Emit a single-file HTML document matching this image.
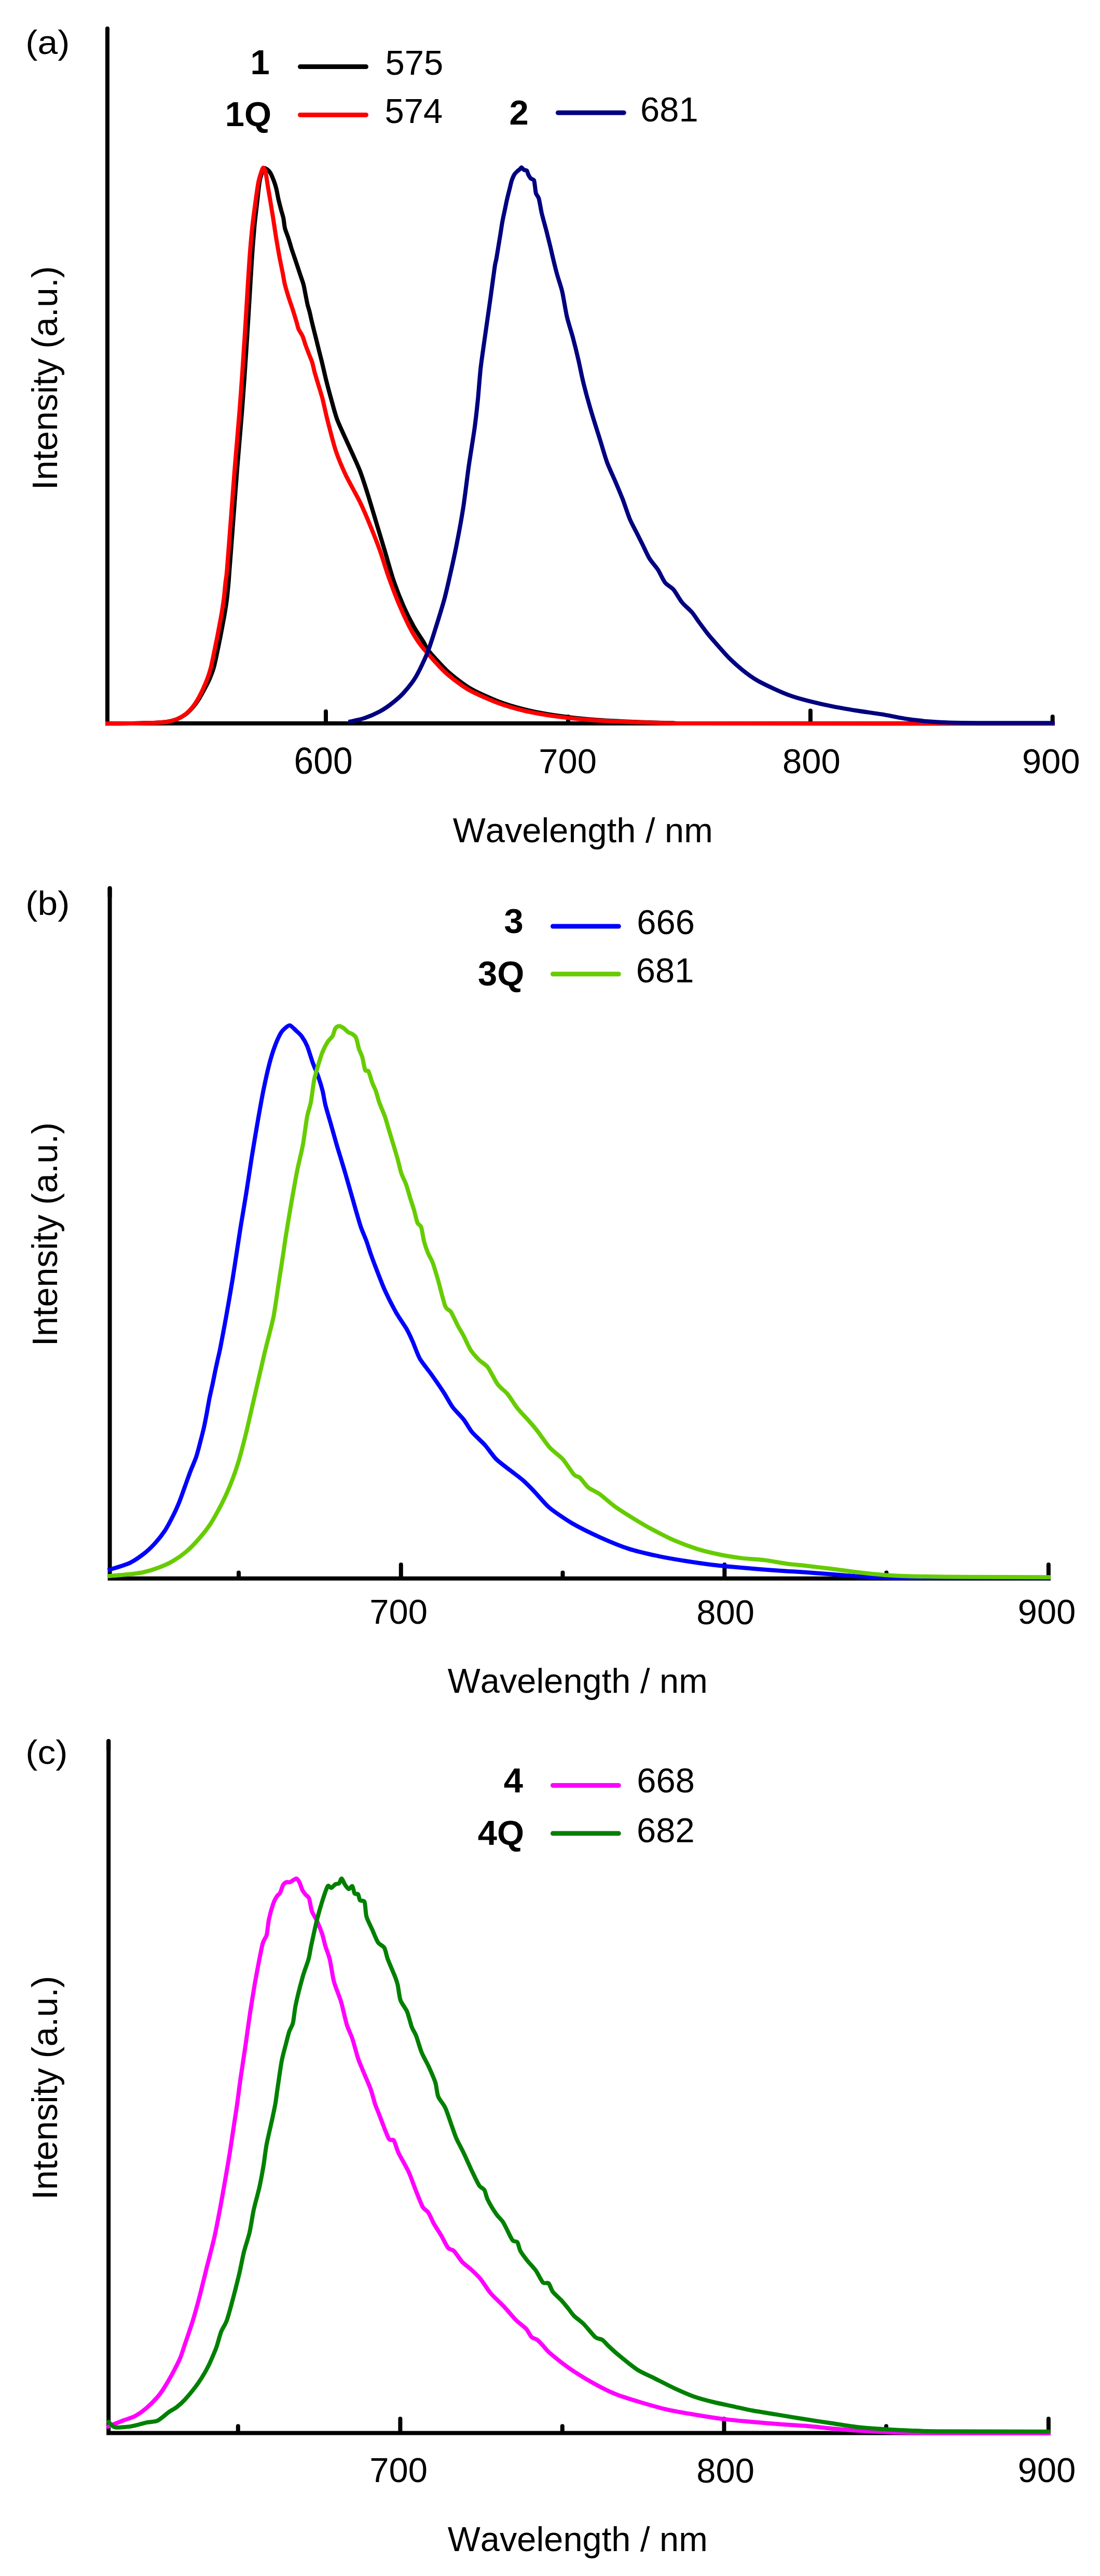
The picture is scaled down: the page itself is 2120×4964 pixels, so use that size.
<!DOCTYPE html>
<html><head><meta charset="utf-8"><title>Emission spectra</title>
<style>html,body{margin:0;padding:0;background:#fff}svg{display:block}text{font-family:"Liberation Sans",sans-serif;fill:#000;font-kerning:none}</style></head><body>
<svg width="2120" height="4964" viewBox="0 0 2120 4964">
<rect width="2120" height="4964" fill="#fff"/>
<g id="panel-a">
<line x1="628.0" y1="1393.0" x2="628.0" y2="1371.0" stroke="#000" stroke-width="8" stroke-linecap="round"/>
<line x1="1095.0" y1="1393.0" x2="1095.0" y2="1381.0" stroke="#000" stroke-width="8" stroke-linecap="round"/>
<line x1="1562.0" y1="1393.0" x2="1562.0" y2="1369.5" stroke="#000" stroke-width="8" stroke-linecap="round"/>
<line x1="2028.6" y1="1393.0" x2="2028.6" y2="1381.0" stroke="#000" stroke-width="8" stroke-linecap="round"/>
<path d="M207.0,54.0 L207.0,1394.0 L2032.6,1394.0" stroke="#000" stroke-width="8" fill="none" stroke-linejoin="miter" stroke-linecap="butt"/>
<line x1="207.0" y1="55.0" x2="207.0" y2="71.0" stroke="#000" stroke-width="8" stroke-linecap="round"/>
<path d="M207.0,1394.3C212.4,1394.3 240.8,1394.1 250.0,1394.0C259.2,1393.9 273.7,1393.5 280.0,1393.3C286.3,1393.1 294.7,1393.1 300.0,1392.8C305.3,1392.5 316.6,1391.9 321.8,1391.0C327.0,1390.1 336.4,1387.7 341.0,1385.9C345.6,1384.1 354.1,1379.3 358.0,1376.4C361.9,1373.5 368.7,1366.5 372.0,1362.7C375.3,1358.9 381.0,1350.9 383.8,1346.4C386.6,1341.9 391.8,1332.1 394.4,1327.3C397.0,1322.5 401.8,1313.4 404.0,1308.2C406.2,1303.0 410.2,1292.6 412.0,1286.4C413.8,1280.2 416.7,1265.9 418.2,1259.0C419.7,1252.1 422.4,1238.7 423.8,1231.8C425.2,1224.9 427.7,1211.4 429.0,1204.5C430.3,1197.6 432.8,1184.2 433.9,1177.3C435.0,1170.4 437.0,1156.9 437.8,1150.0C438.6,1143.1 439.9,1129.0 440.5,1122.7C441.1,1116.4 441.0,1115.5 442.2,1100.0C443.4,1084.5 447.9,1025.3 449.8,1000.0C451.7,974.7 455.4,925.3 457.4,900.0C459.4,874.7 464.1,821.9 465.8,800.0C467.5,778.1 469.9,746.1 471.2,727.0C472.5,707.9 475.0,669.2 476.3,649.5C477.6,629.8 479.9,591.5 481.1,571.8C482.3,552.1 484.6,511.4 485.8,494.2C487.0,477.0 489.3,448.2 490.4,435.9C491.5,423.6 493.8,405.6 494.8,397.0C495.8,388.4 497.3,374.1 498.0,368.0C498.7,361.9 499.8,352.8 500.6,348.5C501.4,344.2 503.6,336.7 504.5,334.0C505.4,331.3 506.8,328.3 507.5,327.0C508.2,325.7 509.3,324.0 510.3,324.0C511.3,324.0 514.1,325.9 515.5,327.0C516.9,328.1 519.4,330.3 521.0,333.0C522.6,335.7 526.3,344.6 527.8,348.5C529.3,352.4 531.5,359.6 532.6,364.0C533.7,368.4 535.4,378.6 536.5,383.5C537.6,388.4 540.2,398.3 541.4,403.0C542.6,407.7 545.2,415.7 546.2,420.4C547.2,425.1 547.9,434.9 549.1,439.8C550.3,444.7 554.3,454.3 555.9,459.2C557.5,464.1 560.2,473.9 561.7,478.6C563.2,483.3 566.1,491.7 567.6,496.1C569.1,500.5 571.9,509.2 573.4,513.6C574.9,518.0 577.7,526.6 579.2,531.0C580.7,535.4 583.8,543.8 585.0,548.5C586.2,553.2 587.9,563.1 588.9,568.0C589.9,572.9 591.8,583.2 592.8,587.4C593.8,591.6 595.7,597.1 596.7,601.0C597.7,604.9 599.5,613.7 600.6,618.4C601.7,623.1 604.2,633.0 605.4,637.9C606.6,642.8 609.1,652.4 610.3,657.3C611.5,662.2 613.9,671.8 615.1,676.7C616.3,681.6 618.3,689.1 620.0,696.0C621.7,702.9 625.9,721.9 628.2,731.0C630.5,740.1 635.2,758.1 638.0,768.0C640.8,777.9 645.7,797.6 650.0,809.0C654.3,820.4 666.4,845.7 671.9,858.2C677.4,870.7 688.9,894.9 693.7,907.3C698.5,919.7 705.9,943.3 710.0,956.4C714.1,969.5 722.2,997.2 726.4,1011.0C730.6,1024.8 738.7,1051.7 742.8,1065.5C746.9,1079.3 754.5,1106.9 759.0,1120.0C763.5,1133.1 773.3,1157.9 778.2,1169.0C783.1,1180.1 792.5,1198.6 797.3,1207.3C802.1,1216.0 812.8,1231.4 816.4,1237.3C820.0,1243.2 820.1,1246.8 826.0,1254.0C831.9,1261.2 852.9,1284.8 863.0,1294.0C873.1,1303.2 893.7,1319.2 906.0,1326.5C918.3,1333.8 946.3,1346.2 960.0,1351.5C973.7,1356.8 1000.3,1364.6 1014.0,1368.0C1027.7,1371.4 1052.9,1376.0 1068.0,1378.3C1083.1,1380.6 1114.4,1384.4 1133.0,1386.0C1151.6,1387.6 1194.4,1389.9 1215.0,1390.8C1235.6,1391.7 1278.9,1392.9 1296.0,1393.3C1313.1,1393.7 1257.2,1393.9 1350.0,1394.0C1442.8,1394.1 1942.6,1394.3 2028.6,1394.3" stroke="#000" stroke-width="8" fill="none" stroke-linejoin="round" stroke-linecap="square"/>
<path d="M207.0,1394.3C212.4,1394.3 240.8,1394.1 250.0,1394.0C259.2,1393.9 273.7,1393.5 280.0,1393.3C286.3,1393.1 294.7,1393.1 300.0,1392.8C305.3,1392.5 316.6,1391.9 321.8,1391.0C327.0,1390.1 336.4,1387.7 340.9,1385.9C345.4,1384.1 353.5,1379.3 357.3,1376.4C361.1,1373.5 367.8,1366.5 370.9,1362.7C374.0,1358.9 379.2,1350.9 381.8,1346.4C384.4,1341.9 389.2,1332.1 391.4,1327.3C393.6,1322.5 397.6,1313.4 399.5,1308.2C401.4,1303.0 404.8,1292.6 406.4,1286.4C408.0,1280.2 410.8,1265.9 412.2,1259.0C413.6,1252.1 416.4,1238.7 417.8,1231.8C419.2,1224.9 421.7,1211.4 423.0,1204.5C424.3,1197.6 426.8,1184.2 427.9,1177.3C429.0,1170.4 431.0,1156.9 431.8,1150.0C432.6,1143.1 433.8,1129.0 434.5,1122.7C435.2,1116.4 436.0,1115.5 437.3,1100.0C438.6,1084.5 443.1,1025.3 445.0,1000.0C446.9,974.7 450.6,925.3 452.6,900.0C454.6,874.7 459.3,821.9 461.0,800.0C462.7,778.1 465.1,746.1 466.4,727.0C467.7,707.9 470.2,669.2 471.5,649.5C472.8,629.8 475.1,591.5 476.3,571.8C477.5,552.1 479.9,511.4 481.2,494.2C482.5,477.0 485.1,448.2 486.4,435.9C487.7,423.6 490.2,405.6 491.3,397.0C492.4,388.4 494.4,374.1 495.3,368.0C496.2,361.9 497.6,352.9 498.6,348.5C499.6,344.1 502.2,335.9 503.1,333.0C504.0,330.1 505.0,327.2 505.5,326.0C506.0,324.8 506.9,323.3 507.4,323.3C507.9,323.3 509.2,324.8 509.8,326.0C510.4,327.2 511.4,328.9 512.2,333.0C513.0,337.1 515.0,351.4 516.1,358.3C517.2,365.2 519.8,380.0 521.0,387.4C522.2,394.8 524.4,407.9 525.8,416.5C527.2,425.1 530.1,445.5 531.7,455.3C533.3,465.1 536.8,485.6 538.4,494.2C540.0,502.8 542.9,516.4 544.3,523.3C545.7,530.2 547.6,542.4 549.1,548.5C550.6,554.6 554.1,565.9 555.9,571.8C557.7,577.7 561.7,588.9 563.7,595.1C565.7,601.3 570.0,615.5 571.5,620.4C573.0,625.3 573.8,630.6 575.3,634.0C576.8,637.4 581.4,643.7 583.1,647.6C584.8,651.5 587.4,660.8 588.9,665.0C590.4,669.2 593.2,676.4 594.8,680.6C596.4,684.8 600.1,693.3 601.6,698.0C603.1,702.7 605.1,712.6 606.4,717.5C607.7,722.4 610.7,732.0 612.2,736.9C613.7,741.8 616.9,752.1 618.1,756.3C619.3,760.5 620.4,763.3 622.0,770.0C623.6,776.7 627.8,796.5 631.0,809.0C634.2,821.5 642.8,855.5 647.3,869.0C651.8,882.5 660.5,903.0 666.4,915.5C672.3,928.0 687.8,955.2 693.7,967.3C699.6,979.4 708.0,999.3 712.8,1011.0C717.6,1022.7 727.3,1047.2 731.9,1060.0C736.5,1072.8 744.4,1099.1 749.0,1112.0C753.6,1124.9 763.1,1150.2 768.0,1162.0C772.9,1173.8 783.1,1196.1 787.5,1205.0C791.9,1213.9 798.8,1225.6 803.0,1232.0C807.2,1238.4 813.9,1247.3 821.0,1255.5C828.1,1263.7 848.6,1287.1 859.0,1296.4C869.4,1305.7 890.3,1321.7 902.8,1329.0C915.3,1336.3 943.5,1348.5 957.3,1353.7C971.1,1358.9 998.1,1366.7 1011.9,1370.0C1025.7,1373.3 1051.2,1377.7 1066.4,1379.9C1081.6,1382.1 1113.2,1385.6 1131.9,1387.0C1150.6,1388.4 1193.0,1390.5 1213.7,1391.3C1234.4,1392.1 1278.2,1393.2 1295.5,1393.5C1312.8,1393.8 1311.4,1393.9 1350.0,1394.0C1388.6,1394.1 1514.0,1394.3 1600.0,1394.3C1686.0,1394.3 1974.3,1394.3 2028.6,1394.3" stroke="#f00" stroke-width="8" fill="none" stroke-linejoin="round" stroke-linecap="square"/>
<path d="M675.6,1390.3C678.9,1389.5 694.9,1386.4 702.0,1384.0C709.1,1381.6 725.1,1374.7 732.0,1371.0C738.9,1367.3 750.7,1359.1 756.5,1354.5C762.3,1349.9 772.4,1341.3 778.0,1335.0C783.6,1328.7 795.2,1314.8 801.0,1305.0C806.8,1295.2 818.8,1270.2 823.7,1258.0C828.6,1245.8 835.9,1222.1 840.0,1209.0C844.1,1195.9 853.0,1167.1 856.4,1154.6C859.8,1142.1 864.1,1122.7 867.0,1110.0C869.9,1097.3 875.7,1071.3 879.0,1054.6C882.3,1037.9 889.7,998.2 892.8,978.2C895.9,958.2 900.9,915.7 903.7,896.4C906.5,877.1 912.4,841.5 914.6,825.5C916.8,809.5 919.5,784.8 921.0,770.0C922.5,755.2 924.5,725.7 926.4,709.0C928.3,692.3 933.8,655.3 936.2,638.0C938.6,620.7 943.3,588.7 945.5,572.8C947.7,556.9 952.3,522.0 953.7,512.8C955.1,503.6 955.6,504.4 956.4,500.0C957.2,495.6 959.0,484.4 960.0,478.2C961.0,472.0 963.5,457.3 964.5,450.9C965.5,444.5 967.2,433.1 968.2,427.3C969.2,421.5 971.5,411.0 972.7,405.5C973.9,400.0 976.1,388.7 977.3,383.6C978.5,378.5 980.6,370.1 981.8,365.5C983.0,360.9 985.1,351.1 986.4,347.3C987.7,343.5 990.3,337.8 991.8,335.5C993.3,333.2 996.8,330.3 998.2,329.0C999.6,327.7 1001.8,326.3 1002.7,325.5C1003.6,324.7 1004.1,322.5 1005.0,322.7C1005.9,322.9 1008.7,326.5 1010.0,327.3C1011.3,328.1 1014.5,327.8 1015.5,329.0C1016.5,330.2 1017.3,334.6 1018.2,336.4C1019.1,338.2 1021.3,342.2 1022.7,343.6C1024.1,345.0 1028.0,345.5 1029.0,347.3C1030.0,349.1 1030.4,355.0 1030.9,358.2C1031.4,361.4 1032.1,369.7 1033.0,372.7C1033.9,375.7 1037.2,379.0 1038.2,381.8C1039.2,384.6 1040.2,391.1 1040.9,394.5C1041.6,397.9 1042.8,405.3 1043.6,409.0C1044.4,412.7 1046.3,419.7 1047.3,423.6C1048.3,427.5 1050.6,435.6 1051.8,440.0C1053.0,444.4 1055.2,453.6 1056.4,458.2C1057.6,462.8 1059.7,471.6 1060.9,476.4C1062.1,481.2 1063.9,489.7 1065.5,496.4C1067.1,503.1 1071.4,520.7 1073.7,529.0C1076.0,537.3 1081.1,551.5 1083.5,561.9C1085.9,572.3 1090.2,600.0 1092.8,611.0C1095.4,622.0 1100.9,638.6 1103.7,649.0C1106.5,659.4 1112.2,682.4 1114.6,692.8C1117.0,703.2 1120.7,721.9 1122.8,731.0C1124.9,740.1 1129.0,755.8 1131.5,765.0C1134.0,774.2 1139.5,793.2 1142.7,803.6C1145.9,814.0 1152.9,836.2 1156.4,847.3C1159.9,858.4 1166.2,880.7 1170.0,891.0C1173.8,901.3 1182.6,920.0 1186.4,929.0C1190.2,938.0 1196.5,952.8 1200.0,961.8C1203.5,970.8 1210.2,991.7 1213.7,1000.0C1217.2,1008.3 1224.2,1021.1 1227.3,1027.3C1230.4,1033.5 1235.1,1042.8 1238.2,1049.0C1241.3,1055.2 1248.0,1070.2 1251.8,1076.4C1255.6,1082.6 1264.4,1092.3 1268.2,1098.2C1272.0,1104.1 1278.1,1118.0 1281.9,1122.8C1285.7,1127.6 1294.1,1131.6 1298.2,1136.4C1302.3,1141.2 1310.1,1155.5 1314.6,1161.0C1319.1,1166.5 1329.6,1175.2 1333.7,1180.0C1337.8,1184.8 1343.5,1193.8 1347.3,1199.0C1351.1,1204.2 1359.6,1215.8 1363.7,1221.0C1367.8,1226.2 1374.8,1234.1 1380.0,1240.0C1385.2,1245.9 1398.0,1260.7 1404.6,1267.3C1411.2,1273.9 1424.9,1286.3 1431.8,1291.8C1438.7,1297.3 1451.4,1306.5 1459.0,1311.0C1466.6,1315.5 1483.5,1323.5 1491.8,1327.3C1500.1,1331.1 1515.6,1337.9 1524.6,1341.0C1533.6,1344.1 1552.4,1349.3 1562.8,1351.9C1573.2,1354.5 1595.4,1359.5 1606.4,1361.7C1617.4,1363.9 1638.3,1367.4 1650.0,1369.3C1661.7,1371.2 1687.2,1374.5 1699.0,1376.4C1710.8,1378.3 1731.7,1382.9 1742.8,1384.6C1753.9,1386.3 1775.4,1389.0 1786.4,1390.0C1797.4,1391.0 1816.2,1392.2 1830.0,1392.6C1843.8,1393.0 1870.3,1393.2 1895.5,1393.3C1920.7,1393.4 2011.7,1393.3 2028.6,1393.3" stroke="#000080" stroke-width="8" fill="none" stroke-linejoin="round" stroke-linecap="square"/>
<text x="49.3" y="103.8" font-size="65.2" textLength="85.0" lengthAdjust="spacingAndGlyphs">(a)</text>
<text transform="translate(110.0,944.2) rotate(-90)" font-size="68.1">Intensity (a.u.)</text>
<text x="482.5" y="142.5" font-size="67" font-weight="bold">1</text>
<line x1="578.5" y1="128.6" x2="705.5" y2="128.6" stroke="#000" stroke-width="9" stroke-linecap="round"/>
<text x="742.4" y="143.5" font-size="67">575</text>
<text x="433.7" y="243.0" font-size="67" font-weight="bold">1Q</text>
<line x1="578.5" y1="221.4" x2="705.5" y2="221.4" stroke="#f00" stroke-width="9" stroke-linecap="round"/>
<text x="741.5" y="236.8" font-size="67">574</text>
<text x="981.5" y="239.5" font-size="67" font-weight="bold">2</text>
<line x1="1075.5" y1="217.2" x2="1202.3" y2="217.2" stroke="#000080" stroke-width="9" stroke-linecap="round"/>
<text x="1234.0" y="233.5" font-size="67">681</text>
<text x="566.6" y="1490.5" font-size="73" textLength="113.1" lengthAdjust="spacingAndGlyphs">600</text>
<text x="1038.2" y="1490.3" font-size="67">700</text>
<text x="1508.0" y="1490.3" font-size="67">800</text>
<text x="1969.8" y="1490.3" font-size="67">900</text>
<text x="872.7" y="1622.5" font-size="66.8">Wavelength / nm</text>
</g>
<g id="panel-b">
<line x1="772.8" y1="3040.7" x2="772.8" y2="3015.0" stroke="#000" stroke-width="8" stroke-linecap="round"/>
<line x1="1396.4" y1="3040.7" x2="1396.4" y2="3015.0" stroke="#000" stroke-width="8" stroke-linecap="round"/>
<line x1="2020.8" y1="3040.7" x2="2020.8" y2="3015.0" stroke="#000" stroke-width="8" stroke-linecap="round"/>
<line x1="460.0" y1="3040.7" x2="460.0" y2="3030.5" stroke="#000" stroke-width="8" stroke-linecap="round"/>
<line x1="1084.5" y1="3040.7" x2="1084.5" y2="3030.5" stroke="#000" stroke-width="8" stroke-linecap="round"/>
<line x1="1708.4" y1="3040.7" x2="1708.4" y2="3030.5" stroke="#000" stroke-width="8" stroke-linecap="round"/>
<path d="M211.6,1710.6 L211.6,3041.7 L2024.8,3041.7" stroke="#000" stroke-width="8" fill="none" stroke-linejoin="miter" stroke-linecap="butt"/>
<line x1="211.6" y1="1711.6" x2="211.6" y2="1727.6" stroke="#000" stroke-width="8" stroke-linecap="round"/>
<path d="M211.6,3024.7C216.5,3023.1 241.7,3015.7 250.0,3011.8C258.3,3007.9 271.1,2998.8 277.3,2994.0C283.5,2989.2 293.8,2979.3 299.0,2973.6C304.2,2967.9 313.7,2955.9 318.2,2949.0C322.7,2942.1 331.0,2925.9 334.5,2919.0C338.0,2912.1 342.7,2901.4 345.5,2894.5C348.3,2887.6 353.6,2872.1 356.4,2864.5C359.2,2856.9 364.5,2841.7 367.3,2834.5C370.1,2827.3 375.8,2814.5 378.2,2807.3C380.6,2800.1 384.5,2784.6 386.4,2777.3C388.3,2770.0 391.7,2756.9 393.2,2750.0C394.7,2743.1 397.3,2729.6 398.6,2722.7C399.9,2715.8 402.1,2702.4 403.5,2695.5C404.9,2688.6 408.0,2675.1 409.5,2668.2C411.0,2661.3 413.6,2647.5 415.0,2640.9C416.4,2634.3 419.2,2621.8 420.4,2616.4C421.6,2611.0 422.5,2608.1 424.5,2598.0C426.5,2587.9 433.0,2553.2 436.0,2536.4C439.0,2519.6 445.7,2480.9 448.2,2465.5C450.7,2450.1 454.0,2427.8 456.0,2415.0C458.0,2402.2 461.3,2379.3 463.7,2364.6C466.1,2349.9 471.8,2316.3 474.6,2299.0C477.4,2281.7 482.7,2245.3 485.5,2228.0C488.3,2210.7 493.6,2178.7 496.4,2162.8C499.2,2146.9 504.5,2116.6 507.3,2102.8C510.1,2089.0 515.5,2064.4 518.2,2053.7C520.9,2043.0 526.1,2025.9 529.0,2018.0C531.9,2010.1 538.2,1995.8 541.0,1991.0C543.8,1986.2 548.7,1981.9 551.0,1980.0C553.3,1978.1 556.6,1975.3 559.0,1976.0C561.4,1976.7 567.2,1982.9 570.0,1985.5C572.8,1988.1 578.2,1992.6 581.0,1996.4C583.8,2000.2 589.1,2009.0 591.9,2015.5C594.7,2022.0 600.0,2040.4 602.8,2048.0C605.6,2055.6 611.3,2068.6 613.7,2075.5C616.1,2082.4 620.2,2095.9 621.9,2102.8C623.6,2109.7 625.2,2121.7 627.3,2130.0C629.4,2138.3 635.5,2158.3 638.2,2168.0C640.9,2177.7 646.6,2198.1 649.0,2206.4C651.4,2214.7 655.2,2226.8 657.3,2233.7C659.4,2240.6 663.1,2252.7 665.5,2261.0C667.9,2269.3 673.6,2289.3 676.4,2299.0C679.2,2308.7 684.9,2329.0 687.3,2337.3C689.7,2345.6 693.1,2357.7 695.5,2364.6C697.9,2371.5 704.1,2385.6 706.4,2392.0C708.7,2398.4 711.8,2408.7 714.0,2415.0C716.2,2421.3 720.5,2433.0 724.0,2442.0C727.5,2451.0 736.5,2474.9 741.5,2486.0C746.5,2497.1 758.2,2520.0 763.5,2529.5C768.8,2539.0 779.6,2553.9 783.7,2561.0C787.8,2568.1 792.3,2578.3 795.5,2585.5C798.7,2592.7 804.5,2610.1 809.0,2618.0C813.5,2625.9 825.1,2639.7 831.0,2648.0C836.9,2656.3 850.3,2675.7 855.5,2683.7C860.7,2691.7 867.1,2704.4 871.9,2711.0C876.7,2717.6 888.9,2729.3 893.7,2735.5C898.5,2741.7 904.8,2753.8 910.0,2760.0C915.2,2766.2 928.7,2778.0 934.6,2784.6C940.5,2791.2 950.2,2805.7 956.4,2811.9C962.6,2818.1 977.1,2828.5 983.7,2833.7C990.3,2838.9 1002.0,2847.3 1008.2,2852.8C1014.4,2858.3 1026.4,2870.7 1032.8,2877.4C1039.2,2884.1 1050.1,2898.1 1059.0,2905.5C1067.9,2912.9 1090.3,2928.2 1102.8,2935.5C1115.3,2942.8 1143.5,2956.6 1157.3,2962.8C1171.1,2969.0 1198.1,2980.1 1211.9,2984.6C1225.7,2989.1 1252.6,2995.2 1266.4,2998.2C1280.2,3001.2 1307.2,3005.8 1321.0,3008.0C1334.8,3010.2 1361.7,3014.1 1375.5,3015.7C1389.3,3017.3 1416.2,3019.8 1430.0,3021.0C1443.8,3022.2 1469.3,3024.4 1484.6,3025.5C1499.9,3026.6 1536.2,3028.8 1551.0,3029.8C1565.8,3030.8 1588.9,3032.4 1601.8,3033.4C1614.7,3034.4 1639.8,3036.7 1652.7,3037.5C1665.6,3038.3 1690.1,3039.6 1703.7,3040.0C1717.3,3040.4 1719.8,3040.7 1760.0,3040.8C1800.2,3040.9 1987.8,3040.8 2020.8,3040.8" stroke="#00f" stroke-width="8" fill="none" stroke-linejoin="round" stroke-linecap="square"/>
<path d="M211.6,3037.0C216.5,3036.6 241.7,3034.5 250.0,3033.6C258.3,3032.7 270.4,3031.1 277.3,3029.5C284.2,3027.9 297.6,3023.9 304.5,3021.3C311.4,3018.7 324.9,3013.0 331.8,3009.0C338.7,3005.0 352.8,2995.2 359.0,2990.0C365.2,2984.8 375.5,2974.2 381.0,2968.0C386.5,2961.8 397.9,2947.8 402.7,2940.9C407.5,2934.0 414.8,2921.2 419.0,2913.6C423.2,2906.0 431.7,2889.2 435.5,2880.9C439.3,2872.6 445.9,2856.5 449.0,2848.2C452.1,2839.9 457.6,2823.4 460.0,2815.5C462.4,2807.6 466.1,2793.5 468.2,2785.5C470.3,2777.5 474.3,2761.3 476.4,2752.7C478.5,2744.1 482.4,2726.3 484.5,2717.3C486.6,2708.3 490.6,2690.8 492.7,2681.8C494.8,2672.8 498.8,2655.4 500.9,2646.4C503.0,2637.4 507.4,2617.9 509.0,2611.0C510.6,2604.1 511.4,2601.4 513.7,2592.0C516.0,2582.6 524.2,2552.4 527.3,2536.4C530.4,2520.4 535.8,2480.9 538.2,2465.5C540.6,2450.1 544.4,2425.7 546.0,2415.0C547.6,2404.3 549.0,2393.6 551.0,2381.0C553.0,2368.4 559.1,2331.4 561.9,2315.5C564.7,2299.6 570.0,2269.3 572.8,2255.5C575.6,2241.7 581.3,2219.5 583.7,2206.4C586.1,2193.3 590.0,2162.3 591.9,2151.9C593.8,2141.5 597.3,2133.6 599.0,2124.6C600.7,2115.6 603.6,2090.3 605.5,2081.0C607.4,2071.7 611.6,2057.9 613.7,2051.0C615.8,2044.1 619.6,2031.9 621.9,2026.4C624.2,2020.9 629.3,2011.1 631.7,2007.3C634.1,2003.5 639.1,1999.7 641.0,1996.4C642.9,1993.1 644.8,1984.0 646.4,1981.6C648.0,1979.2 651.4,1977.3 653.5,1977.3C655.6,1977.3 660.6,1980.1 662.8,1981.6C665.0,1983.1 668.9,1987.6 671.0,1989.0C673.1,1990.4 677.1,1991.2 679.0,1992.6C680.9,1994.0 684.7,1996.4 686.3,2000.0C687.9,2003.6 690.2,2016.3 691.7,2021.0C693.2,2025.7 696.8,2032.1 698.3,2037.3C699.8,2042.5 702.2,2058.3 703.7,2061.8C705.2,2065.3 708.6,2061.5 710.3,2064.6C712.0,2067.7 715.6,2081.6 717.4,2086.4C719.2,2091.2 722.8,2098.0 724.5,2102.8C726.2,2107.6 728.8,2118.4 731.0,2124.6C733.2,2130.8 739.5,2145.0 741.9,2151.9C744.3,2158.8 747.9,2172.1 750.0,2179.0C752.1,2185.9 756.2,2199.5 758.3,2206.4C760.4,2213.3 764.5,2226.8 766.4,2233.7C768.3,2240.6 771.4,2254.8 773.5,2261.0C775.6,2267.2 780.6,2276.6 782.8,2282.8C785.0,2289.0 789.1,2303.8 791.0,2310.0C792.9,2316.2 796.3,2326.1 798.0,2332.0C799.7,2337.9 802.9,2352.3 804.6,2356.4C806.3,2360.5 810.1,2360.1 811.7,2364.6C813.3,2369.1 815.5,2385.6 817.2,2392.0C818.9,2398.4 822.9,2409.8 825.0,2415.0C827.1,2420.2 831.2,2426.0 833.7,2432.7C836.2,2439.4 841.5,2457.3 844.6,2468.0C847.7,2478.7 855.1,2509.7 858.2,2517.3C861.3,2524.9 865.9,2523.2 869.0,2528.0C872.1,2532.8 879.7,2549.6 882.8,2555.5C885.9,2561.4 890.6,2568.7 893.7,2574.6C896.8,2580.5 903.5,2596.0 907.3,2601.9C911.1,2607.8 919.6,2616.9 923.7,2621.0C927.8,2625.1 935.5,2628.7 940.0,2634.6C944.5,2640.5 954.2,2660.7 959.0,2667.3C963.8,2673.9 973.3,2680.5 978.2,2686.4C983.1,2692.3 991.8,2706.8 997.3,2713.7C1002.8,2720.6 1017.1,2735.5 1021.9,2741.0C1026.7,2746.5 1030.7,2751.1 1035.5,2757.3C1040.3,2763.5 1053.8,2783.1 1060.0,2790.0C1066.2,2796.9 1078.7,2805.3 1084.6,2811.9C1090.5,2818.5 1102.3,2837.4 1106.4,2841.9C1110.5,2846.4 1113.8,2844.2 1117.3,2847.3C1120.8,2850.4 1128.9,2862.4 1133.7,2866.4C1138.5,2870.4 1149.1,2874.4 1155.5,2879.0C1161.9,2883.6 1176.1,2896.6 1184.6,2902.7C1193.1,2908.8 1213.8,2921.8 1222.8,2927.3C1231.8,2932.8 1245.8,2941.2 1255.5,2946.4C1265.2,2951.6 1287.9,2963.4 1299.0,2968.2C1310.1,2973.0 1331.7,2981.1 1342.8,2984.6C1353.9,2988.1 1375.4,2993.2 1386.4,2995.5C1397.4,2997.8 1418.9,3001.2 1430.0,3002.6C1441.1,3004.0 1462.6,3005.0 1473.7,3006.4C1484.8,3007.8 1507.6,3012.2 1517.4,3013.5C1527.2,3014.8 1540.3,3015.8 1551.0,3017.0C1561.7,3018.2 1588.9,3021.4 1601.8,3023.0C1614.7,3024.6 1639.8,3028.3 1652.7,3029.8C1665.6,3031.3 1690.8,3034.0 1703.7,3035.0C1716.6,3036.0 1735.3,3037.0 1754.6,3037.5C1773.9,3038.0 1822.7,3038.6 1856.4,3038.8C1890.1,3039.0 2000.0,3039.1 2020.8,3039.2" stroke="#6c0" stroke-width="8" fill="none" stroke-linejoin="round" stroke-linecap="square"/>
<text x="49.3" y="1762.6" font-size="65.2" textLength="85.0" lengthAdjust="spacingAndGlyphs">(b)</text>
<text transform="translate(110.0,2594.2) rotate(-90)" font-size="68.1">Intensity (a.u.)</text>
<text x="971.5" y="1798.0" font-size="67" font-weight="bold">3</text>
<line x1="1065.5" y1="1785.0" x2="1192.3" y2="1785.0" stroke="#00f" stroke-width="9" stroke-linecap="round"/>
<text x="1227.3" y="1799.5" font-size="67">666</text>
<text x="920.9" y="1899.0" font-size="67" font-weight="bold">3Q</text>
<line x1="1065.5" y1="1877.0" x2="1192.3" y2="1877.0" stroke="#6c0" stroke-width="9" stroke-linecap="round"/>
<text x="1225.8" y="1893.3" font-size="67">681</text>
<text x="712.3" y="3129.3" font-size="67">700</text>
<text x="1342.3" y="3129.5" font-size="67">800</text>
<text x="1961.5" y="3129.3" font-size="67">900</text>
<text x="862.7" y="3261.5" font-size="66.8">Wavelength / nm</text>
</g>
<g id="panel-c">
<line x1="771.4" y1="4687.5" x2="771.4" y2="4661.0" stroke="#000" stroke-width="8" stroke-linecap="round"/>
<line x1="1395.5" y1="4687.5" x2="1395.5" y2="4661.0" stroke="#000" stroke-width="8" stroke-linecap="round"/>
<line x1="2020.8" y1="4687.5" x2="2020.8" y2="4661.0" stroke="#000" stroke-width="8" stroke-linecap="round"/>
<line x1="458.8" y1="4687.5" x2="458.8" y2="4675.3" stroke="#000" stroke-width="8" stroke-linecap="round"/>
<line x1="1083.8" y1="4687.5" x2="1083.8" y2="4675.3" stroke="#000" stroke-width="8" stroke-linecap="round"/>
<line x1="1708.0" y1="4687.5" x2="1708.0" y2="4675.3" stroke="#000" stroke-width="8" stroke-linecap="round"/>
<path d="M209.2,3354.0 L209.2,4688.5 L2024.8,4688.5" stroke="#000" stroke-width="8" fill="none" stroke-linejoin="miter" stroke-linecap="butt"/>
<line x1="209.2" y1="3355.0" x2="209.2" y2="3371.0" stroke="#000" stroke-width="8" stroke-linecap="round"/>
<path d="M209.2,4675.5C212.9,4674.0 231.8,4666.5 238.2,4664.0C244.6,4661.5 254.5,4659.0 260.0,4656.0C265.5,4653.0 276.3,4645.4 281.8,4640.7C287.3,4636.0 299.4,4623.8 303.6,4619.0C307.8,4614.2 311.8,4608.4 315.3,4603.0C318.8,4597.6 327.0,4583.8 331.0,4576.4C335.0,4569.0 343.9,4551.7 347.0,4544.6C350.1,4537.5 352.3,4529.3 355.5,4520.0C358.7,4510.7 368.1,4483.4 371.9,4471.0C375.7,4458.6 382.1,4435.1 385.5,4422.0C388.9,4408.9 395.5,4381.1 399.0,4367.3C402.5,4353.5 409.7,4326.6 412.8,4312.8C415.9,4299.0 421.1,4272.0 423.7,4258.2C426.3,4244.4 431.1,4217.5 433.5,4203.7C435.9,4189.9 440.6,4162.8 442.8,4149.0C445.0,4135.2 449.2,4106.5 451.0,4094.6C452.8,4082.7 455.4,4066.4 457.0,4055.0C458.6,4043.6 461.6,4019.3 463.7,4004.6C465.8,3989.9 471.1,3955.6 473.5,3939.0C475.9,3922.4 480.2,3890.3 482.8,3873.7C485.4,3857.1 490.7,3824.4 493.7,3808.2C496.7,3792.0 503.6,3755.5 506.2,3745.5C508.8,3735.5 512.4,3734.9 513.9,3729.0C515.4,3723.1 516.6,3706.6 518.2,3699.0C519.8,3691.4 524.5,3674.6 526.4,3669.0C528.3,3663.4 531.8,3657.1 533.5,3654.4C535.2,3651.7 538.5,3650.1 540.0,3647.3C541.5,3644.5 544.0,3635.1 545.5,3632.5C547.0,3629.9 550.3,3627.7 552.0,3627.0C553.7,3626.3 556.6,3627.9 559.0,3627.0C561.4,3626.1 568.7,3620.0 571.0,3620.0C573.3,3620.0 575.5,3624.2 577.0,3627.0C578.5,3629.8 581.1,3638.8 582.6,3641.8C584.1,3644.8 587.3,3648.9 589.0,3651.0C590.7,3653.1 594.2,3654.2 595.7,3658.2C597.2,3662.2 599.1,3677.2 601.0,3682.7C602.9,3688.2 608.5,3696.3 611.0,3701.8C613.5,3707.3 618.7,3720.2 620.8,3726.4C622.9,3732.6 625.4,3744.8 627.3,3751.0C629.2,3757.2 633.4,3766.9 635.5,3775.5C637.6,3784.1 640.9,3808.6 643.7,3819.0C646.5,3829.4 654.2,3846.9 657.3,3857.3C660.4,3867.7 665.5,3892.0 668.2,3901.0C670.9,3910.0 676.2,3919.9 679.0,3928.2C681.8,3936.5 687.2,3958.1 690.0,3966.4C692.8,3974.7 697.9,3986.1 701.0,3993.7C704.1,4001.3 711.8,4018.6 714.6,4026.4C717.4,4034.2 721.0,4049.1 723.0,4055.0C725.0,4060.9 726.7,4064.4 730.0,4072.7C733.3,4081.0 745.3,4114.1 749.0,4120.7C752.7,4127.3 756.6,4121.0 759.0,4124.6C761.4,4128.2 764.6,4141.4 768.2,4149.0C771.8,4156.6 783.1,4175.6 787.3,4184.6C791.5,4193.6 797.5,4211.4 801.0,4220.0C804.5,4228.6 811.5,4247.3 814.6,4252.8C817.7,4258.3 822.7,4259.6 825.5,4263.7C828.3,4267.8 833.3,4280.0 836.4,4285.5C839.5,4291.0 846.5,4301.4 850.0,4307.3C853.5,4313.2 860.6,4328.1 863.7,4331.9C866.8,4335.7 871.1,4333.9 874.6,4337.3C878.1,4340.7 886.9,4354.5 891.0,4359.0C895.1,4363.5 902.8,4368.6 907.3,4372.8C911.8,4377.0 921.6,4386.0 926.4,4391.9C931.2,4397.8 939.6,4412.1 945.5,4419.0C951.4,4425.9 966.6,4439.8 972.8,4446.4C979.0,4453.0 989.4,4465.8 994.6,4471.0C999.8,4476.2 1009.9,4483.2 1013.7,4487.3C1017.5,4491.4 1021.8,4501.0 1024.6,4503.7C1027.4,4506.4 1032.7,4506.9 1035.5,4509.0C1038.3,4511.1 1043.4,4516.9 1046.4,4520.0C1049.4,4523.1 1052.6,4528.2 1059.0,4533.7C1065.4,4539.2 1086.9,4556.4 1097.3,4563.7C1107.7,4571.0 1129.9,4584.8 1141.0,4591.0C1152.1,4597.2 1172.9,4608.0 1184.6,4612.8C1196.3,4617.6 1220.6,4625.1 1233.7,4629.0C1246.8,4632.9 1274.4,4640.8 1288.2,4643.9C1302.0,4647.0 1329.0,4651.4 1342.8,4653.7C1356.6,4656.0 1383.6,4660.2 1397.4,4661.9C1411.2,4663.6 1438.2,4666.1 1452.0,4667.3C1465.8,4668.5 1494.0,4670.8 1506.5,4671.7C1519.0,4672.6 1538.9,4673.6 1551.0,4674.6C1563.1,4675.6 1588.9,4678.5 1601.8,4679.7C1614.7,4680.9 1639.8,4682.9 1652.7,4683.7C1665.6,4684.5 1690.1,4685.8 1703.7,4686.3C1717.3,4686.8 1719.8,4687.7 1760.0,4688.0C1800.2,4688.3 1987.8,4688.9 2020.8,4689.0" stroke="#f0f" stroke-width="8" fill="none" stroke-linejoin="round" stroke-linecap="square"/>
<path d="M209.2,4667.0C210.1,4667.9 214.2,4672.6 216.0,4674.0C217.8,4675.4 219.0,4677.6 223.6,4677.8C228.2,4678.0 245.3,4676.8 252.7,4675.6C260.1,4674.4 275.4,4669.8 281.8,4668.4C288.2,4667.0 298.1,4667.3 303.6,4664.7C309.1,4662.1 320.9,4651.3 325.5,4648.0C330.1,4644.7 336.1,4642.0 340.0,4639.0C343.9,4636.0 351.2,4629.9 356.5,4624.0C361.8,4618.1 376.4,4600.3 382.0,4592.3C387.6,4584.3 397.0,4568.2 401.0,4560.5C405.0,4552.8 411.5,4536.9 413.7,4531.8C415.9,4526.7 416.6,4524.9 418.2,4520.0C419.8,4515.1 424.0,4499.0 426.4,4492.8C428.8,4486.6 434.2,4480.0 437.3,4471.0C440.4,4462.0 447.9,4433.8 451.0,4422.0C454.1,4410.2 459.5,4388.6 461.9,4378.2C464.3,4367.8 467.6,4349.7 470.0,4340.0C472.4,4330.3 478.6,4312.3 481.0,4301.9C483.4,4291.5 486.6,4269.3 489.0,4258.2C491.4,4247.1 497.6,4225.6 500.0,4214.6C502.4,4203.6 506.5,4181.4 508.2,4171.0C509.9,4160.6 511.6,4143.8 513.7,4132.7C515.8,4121.6 522.5,4093.4 524.6,4083.6C526.7,4073.8 529.2,4062.2 530.5,4055.0C531.8,4047.8 533.0,4036.9 534.6,4026.4C536.2,4015.9 540.7,3983.0 542.8,3971.9C544.9,3960.8 549.1,3946.3 551.0,3939.0C552.9,3931.7 555.8,3919.8 557.5,3914.6C559.2,3909.4 563.0,3904.8 564.6,3898.2C566.2,3891.6 567.6,3874.2 570.0,3862.8C572.4,3851.4 580.6,3819.3 583.7,3808.2C586.8,3797.1 592.5,3783.1 594.6,3775.5C596.7,3767.9 597.9,3757.9 600.0,3748.2C602.1,3738.5 608.2,3710.0 611.0,3699.0C613.8,3688.0 619.3,3669.1 621.9,3661.0C624.5,3652.9 629.6,3637.6 631.7,3634.7C633.8,3631.8 636.3,3638.5 638.2,3638.0C640.1,3637.5 644.5,3632.1 646.4,3631.0C648.3,3629.9 652.0,3630.7 653.5,3629.3C655.0,3627.9 657.0,3619.8 658.4,3620.0C659.8,3620.2 662.7,3628.4 664.4,3631.0C666.1,3633.6 670.2,3639.7 672.0,3640.2C673.8,3640.7 677.5,3633.6 679.0,3634.7C680.5,3635.8 682.1,3647.1 683.5,3649.0C684.9,3650.9 688.7,3648.4 690.0,3650.0C691.3,3651.6 692.3,3660.1 693.9,3662.0C695.5,3663.9 701.0,3661.3 702.6,3665.3C704.2,3669.3 704.5,3687.0 706.4,3693.7C708.3,3700.4 714.5,3712.0 717.3,3718.2C720.1,3724.4 725.3,3738.3 728.3,3742.8C731.3,3747.3 738.4,3749.6 740.8,3753.7C743.2,3757.8 744.8,3768.6 747.4,3775.5C750.0,3782.4 758.6,3802.0 761.0,3808.2C763.4,3814.4 765.0,3818.7 766.4,3824.6C767.8,3830.5 769.6,3848.0 771.9,3854.6C774.2,3861.2 781.7,3869.8 784.5,3876.4C787.3,3883.0 791.5,3900.5 793.7,3906.4C795.9,3912.3 799.5,3916.6 801.9,3922.8C804.3,3929.0 809.7,3947.9 812.8,3955.5C815.9,3963.1 823.2,3975.5 826.5,3982.8C829.8,3990.1 836.7,4005.6 839.0,4012.8C841.3,4020.0 842.1,4033.8 844.5,4040.0C846.9,4046.2 854.7,4054.2 858.2,4061.8C861.7,4069.4 869.1,4092.4 871.9,4100.0C874.7,4107.6 877.2,4115.6 880.0,4121.8C882.8,4128.0 889.9,4141.0 893.7,4149.0C897.5,4157.0 906.2,4176.6 910.0,4184.6C913.8,4192.6 920.7,4207.3 923.7,4211.8C926.7,4216.3 931.4,4216.6 933.5,4220.0C935.6,4223.4 937.1,4233.1 940.0,4239.0C942.9,4244.9 952.6,4260.9 956.4,4266.4C960.2,4271.9 966.5,4277.3 970.0,4282.8C973.5,4288.3 981.3,4305.5 983.7,4310.0C986.1,4314.5 987.3,4316.8 989.0,4318.2C990.7,4319.6 995.6,4318.6 997.3,4321.0C999.0,4323.4 1000.4,4332.8 1002.8,4337.3C1005.2,4341.8 1012.6,4351.6 1016.4,4356.4C1020.2,4361.2 1029.0,4370.2 1032.8,4375.5C1036.6,4380.8 1043.3,4395.3 1046.4,4398.4C1049.5,4401.5 1054.9,4397.7 1057.3,4400.0C1059.7,4402.3 1062.4,4412.2 1065.5,4416.4C1068.6,4420.6 1078.1,4428.7 1081.9,4432.8C1085.7,4436.9 1092.4,4445.2 1095.5,4449.0C1098.6,4452.8 1102.6,4459.0 1106.4,4462.8C1110.2,4466.6 1120.3,4473.8 1125.5,4479.0C1130.7,4484.2 1142.8,4499.9 1147.3,4503.7C1151.8,4507.5 1157.9,4506.9 1161.0,4509.0C1164.1,4511.1 1168.2,4516.5 1171.9,4520.0C1175.6,4523.5 1182.9,4530.5 1190.0,4536.4C1197.1,4542.3 1219.2,4560.5 1228.2,4566.4C1237.2,4572.3 1252.0,4578.3 1261.0,4582.8C1270.0,4587.3 1289.3,4597.4 1299.0,4601.9C1308.7,4606.4 1327.6,4614.8 1337.3,4618.2C1347.0,4621.6 1365.8,4626.6 1375.5,4629.0C1385.2,4631.4 1404.0,4635.2 1413.7,4637.3C1423.4,4639.4 1441.6,4643.6 1452.0,4645.5C1462.4,4647.4 1483.0,4650.5 1495.5,4652.6C1508.0,4654.7 1537.5,4659.7 1551.0,4661.8C1564.5,4663.9 1588.9,4667.6 1601.8,4669.5C1614.7,4671.4 1639.8,4675.5 1652.7,4677.0C1665.6,4678.5 1690.8,4680.2 1703.7,4681.0C1716.6,4681.8 1741.7,4683.2 1754.6,4683.7C1767.5,4684.2 1771.8,4684.9 1805.5,4685.2C1839.2,4685.5 1993.5,4685.7 2020.8,4685.8" stroke="#008000" stroke-width="8" fill="none" stroke-linejoin="round" stroke-linecap="round"/>
<text x="49.3" y="3398.8" font-size="65.2" textLength="81.0" lengthAdjust="spacingAndGlyphs">(c)</text>
<text transform="translate(110.0,4238.9) rotate(-90)" font-size="68.1">Intensity (a.u.)</text>
<text x="970.8" y="3453.6" font-size="67" font-weight="bold">4</text>
<line x1="1065.5" y1="3440.5" x2="1192.3" y2="3440.5" stroke="#f0f" stroke-width="9" stroke-linecap="round"/>
<text x="1227.3" y="3454.0" font-size="67">668</text>
<text x="920.8" y="3554.5" font-size="67" font-weight="bold">4Q</text>
<line x1="1065.5" y1="3533.0" x2="1192.3" y2="3533.0" stroke="#008000" stroke-width="9" stroke-linecap="round"/>
<text x="1227.1" y="3549.5" font-size="67">682</text>
<text x="712.3" y="4783.3" font-size="67">700</text>
<text x="1342.3" y="4783.5" font-size="67">800</text>
<text x="1961.5" y="4783.3" font-size="67">900</text>
<text x="862.7" y="4916.4" font-size="66.8">Wavelength / nm</text>
</g>
</svg></body></html>
